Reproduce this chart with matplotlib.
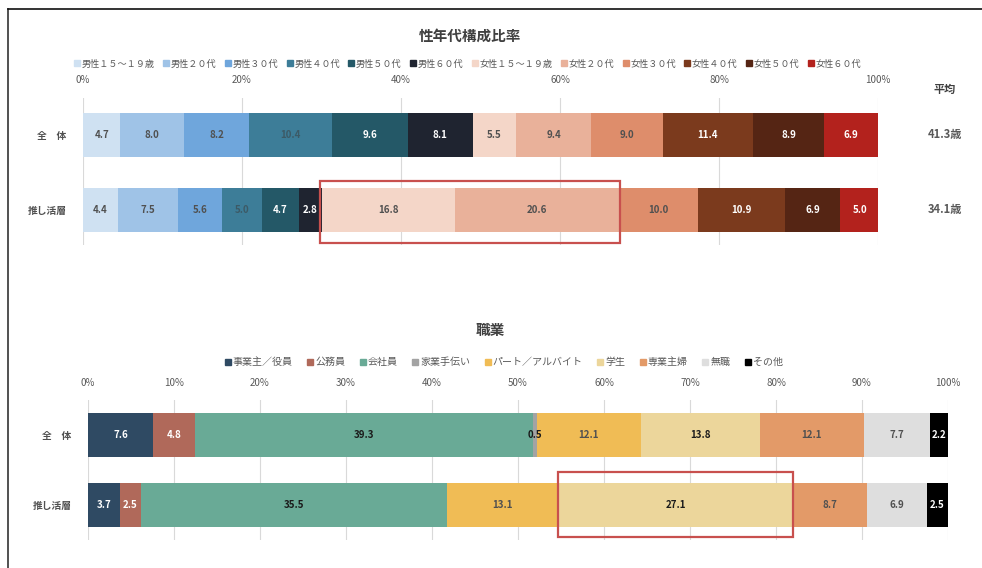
import matplotlib
matplotlib.use('Agg')
import matplotlib.pyplot as plt
import matplotlib.transforms as mtrans
from matplotlib.patches import Rectangle
from matplotlib.lines import Line2D
import numpy as np

plt.rcParams['font.family'] = ['Noto Sans CJK JP', 'DejaVu Sans']

# ---- data: 性年代構成比率 ----
rows = ['全\u3000体', '推し活層']
age_labels = ['男性１５～１９歳', '男性２０代', '男性３０代', '男性４０代', '男性５０代', '男性６０代',
              '女性１５～１９歳', '女性２０代', '女性３０代', '女性４０代', '女性５０代', '女性６０代']
age_all = [4.7, 8.0, 8.2, 10.4, 9.6, 8.1, 5.5, 9.4, 9.0, 11.4, 8.9, 6.9]
age_oshi = [4.4, 7.5, 5.6, 5.0, 4.7, 2.8, 16.8, 20.6, 10.0, 10.9, 6.9, 5.0]
avg_age = ['41.3歳', '34.1歳']

# ---- data: 職業 ----
job_labels = ['事業主／役員', '公務員', '会社員', '家業手伝い', 'パート／アルバイト', '学生', '専業主婦', '無職', 'その他']
job_all = [7.6, 4.8, 39.3, 0.5, 12.1, 13.8, 12.1, 7.7, 2.2]
job_oshi = [3.7, 2.5, 35.5, 0.0, 13.1, 27.1, 8.7, 6.9, 2.5]

age_colors = ['#cfe1f2', '#9fc3e7', '#6fa6dc', '#3d7d98', '#245867', '#1f2430',
              '#f4d6c8', '#e9b19a', '#de8d6b', '#7b3a1d', '#552514', '#b3221d']
age_txt = ['#505050', '#505050', '#505050', '#3c5a66', 'white', 'white',
           '#505050', '#505050', '#505050', 'white', 'white', 'white']
job_colors = ['#2f4a63', '#b0695a', '#69aa96', '#a3a3a3', '#f0bc55', '#ecd69b', '#e39a68', '#dedede', '#000000']
job_txt = ['white', 'white', '#1a1a1a', '#1a1a1a', '#505050', '#1a1a1a', '#505050', '#505050', 'white']

fig = plt.figure(figsize=(9.82, 5.68), dpi=100)
W, H = 982.0, 568.0

def stacked(ax, series_list, colors, txtcols, height, step):
    data = np.array(series_list)
    left = np.zeros(len(series_list))
    for j in range(data.shape[1]):
        vals = data[:, j]
        ax.barh(range(len(vals)), vals, left=left, height=height, color=colors[j], linewidth=0, zorder=2)
        for i, v in enumerate(vals):
            if v > 0:
                ax.text(left[i] + v / 2, i, '%.1f' % v, ha='center', va='center',
                        fontsize=7, fontweight='bold', color=txtcols[j], zorder=3)
        left = left + vals
    ax.set_xlim(0, 100)
    ax.set_xticks(np.arange(0, 101, step))
    ax.xaxis.tick_top()
    ax.xaxis.set_major_formatter(matplotlib.ticker.FuncFormatter(lambda x, p: '%d%%' % x))
    ax.tick_params(axis='x', length=0, labelsize=7, labelcolor='#595959', pad=9)
    ax.tick_params(axis='y', length=0, labelsize=7, labelcolor='#505050', pad=12)
    ax.set_yticks(range(len(series_list)))
    ax.set_yticklabels(rows, fontweight='bold')
    ax.grid(axis='x', color='#d9d9d9', linewidth=0.8, zorder=0)
    ax.set_axisbelow(True)
    for s in ax.spines.values():
        s.set_visible(False)

# top chart
ax1 = fig.add_axes([83 / W, 1 - 245 / H, 795 / W, 147 / H])
stacked(ax1, [age_all, age_oshi], age_colors, age_txt, 0.587, 20)
ax1.set_ylim(1.467, -0.493)
x0 = sum(age_oshi[:6])
x1 = sum(age_oshi[:8])
ax1.add_patch(Rectangle((x0 - 0.2, 1 - 0.387), x1 - x0 + 0.4, 0.827, fill=False,
                        edgecolor='#c8504e', linewidth=1.6, zorder=4, clip_on=False))

# bottom chart
ax2 = fig.add_axes([88 / W, 1 - 540 / H, 860 / W, 140 / H])
stacked(ax2, [job_all, job_oshi], job_colors, job_txt, 0.63, 10)
ax2.set_ylim(1.5, -0.5)
x0 = sum(job_oshi[:5])
x1 = sum(job_oshi[:6])
ax2.add_patch(Rectangle((x0 - 0.1, 1 - 0.471), x1 - x0 + 0.2, 0.928, fill=False,
                        edgecolor='#c8504e', linewidth=1.6, zorder=4, clip_on=False))

# titles
fig.text(470 / W, 1 - 36 / H, '性年代構成比率', ha='center', va='center', fontsize=10.5,
         fontweight='bold', color='#404040')
fig.text(490 / W, 1 - 330 / H, '職業', ha='center', va='center', fontsize=10.5,
         fontweight='bold', color='#404040')

# legends
h1 = [Line2D([], [], marker='s', linestyle='', markersize=4, color=c) for c in age_colors]
fig.legend(h1, age_labels, loc='center', bbox_to_anchor=(467 / W, 1 - 64 / H), ncol=12,
           frameon=False, fontsize=6.6, handletextpad=0.05, columnspacing=0.8,
           handlelength=0.9, labelcolor='#595959')
h2 = [Line2D([], [], marker='s', linestyle='', markersize=4, color=c) for c in job_colors]
fig.legend(h2, job_labels, loc='center', bbox_to_anchor=(503 / W, 1 - 362 / H), ncol=9,
           frameon=False, fontsize=7.2, handletextpad=0.05, columnspacing=1.3,
           handlelength=0.9, labelcolor='#595959')

# 平均
fig.text(945 / W, 1 - 90 / H, '平均', ha='center', va='center', fontsize=8,
         fontweight='bold', color='#404040')
tr = mtrans.blended_transform_factory(fig.transFigure, ax1.transData)
for i, a in enumerate(avg_age):
    ax1.text(945 / W, i, a, transform=tr, ha='center', va='center', fontsize=8,
             fontweight='bold', color='#595959')

# frame
fig.add_artist(Line2D([8 / W, 8 / W], [0, 1 - 9 / H], color='#333333', linewidth=1.2))
fig.add_artist(Line2D([8 / W, 1], [1 - 9 / H, 1 - 9 / H], color='#111111', linewidth=1.2))

fig.savefig('out.png', dpi=100)
